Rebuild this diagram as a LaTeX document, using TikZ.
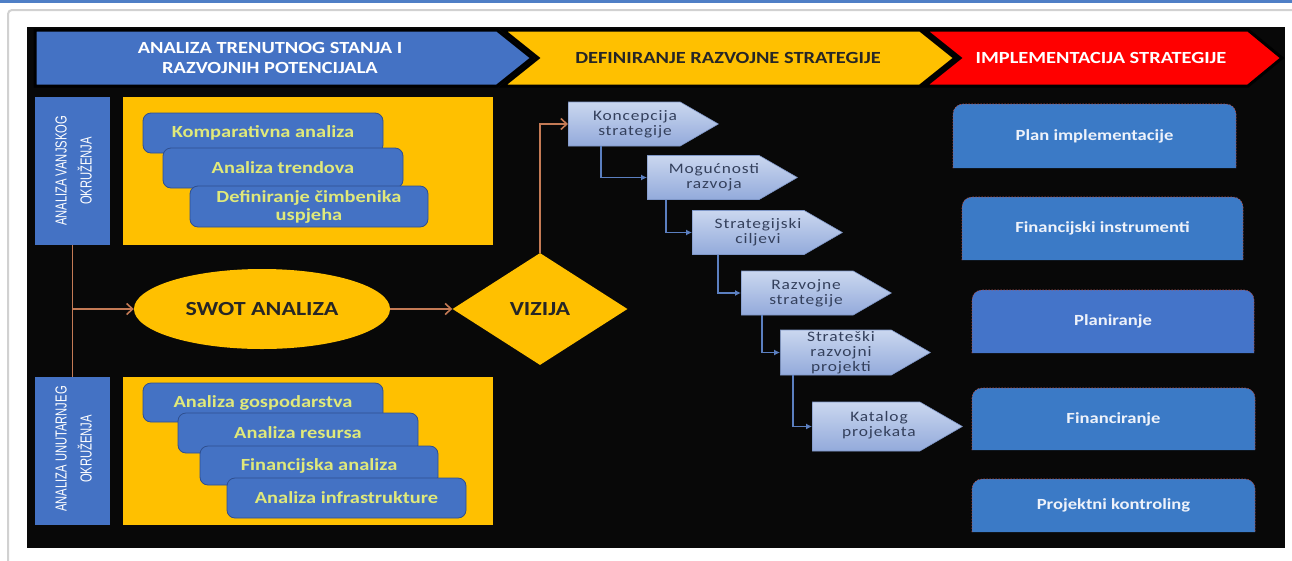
\documentclass[tikz,border=0pt]{standalone}
\usepackage{fontspec}
\setmainfont{Carlito}
\newfontfamily\cb{Carlito}[FakeStretch=1.2]
\newfontfamily\narrow{Liberation Sans}[FakeStretch=0.7]
\usetikzlibrary{shapes.geometric,shapes.symbols,arrows.meta,calc}
\definecolor{hblue}{HTML}{4472C4}
\definecolor{hyellow}{HTML}{FFC000}
\definecolor{hred}{HTML}{FF0000}
\definecolor{ibtext}{HTML}{E0E97A}
\definecolor{ibdraw}{HTML}{2F4F8F}
\definecolor{brownln}{HTML}{C47A55}
\definecolor{blueln}{HTML}{5B7FC0}
\definecolor{pentop}{HTML}{CAD7EF}
\definecolor{penbot}{HTML}{93AADB}
\definecolor{pendraw}{HTML}{7F97C8}
\definecolor{pentext}{HTML}{34405C}
\definecolor{rbox}{HTML}{3B7AC6}
\definecolor{rbox2}{HTML}{4474C9}
\definecolor{rtext}{HTML}{EEF2FA}
\definecolor{rborder}{HTML}{B05050}
\definecolor{darktext}{HTML}{262626}
\definecolor{stripblue}{HTML}{4F7FC6}
\begin{document}
\begin{tikzpicture}[x=1pt,y=-1pt,
  hdr/.style={draw=black,line width=3pt,line join=miter},
  hdrtext/.style={font=\cb\bfseries\fontsize{17}{20}\selectfont,align=center},
  sidebox/.style={fill=hblue,minimum width=75pt,minimum height=148pt,inner sep=0pt},
  sidetext/.style={text=white,rotate=90,align=center,font=\narrow\fontsize{16}{25}\selectfont},
  ypanel/.style={fill=hyellow,minimum width=370pt,minimum height=148pt,inner sep=0pt},
  ibox/.style={fill=hblue,draw=ibdraw,line width=0.8pt,rounded corners=8pt,minimum width=240pt,minimum height=40pt,inner sep=0pt,align=center,text=ibtext,font=\cb\bfseries\fontsize{17}{18}\selectfont},
  pent/.style={signal,signal to=east,signal pointer angle=60,top color=pentop,bottom color=penbot,draw=pendraw,line width=0.6pt,minimum width=150pt,minimum height=44pt,inner sep=0pt,anchor=west},
  pentxt/.style={align=center,text=pentext,inner sep=0pt,font=\cb\fontsize{14.5}{15}\selectfont\addfontfeature{LetterSpace=6}},
  rbfill/.style={fill=#1,draw=rborder,line width=0.6pt,dash pattern=on 1.5pt off 1.5pt,rounded corners=10pt},
  rbtext/.style={text=rtext,font=\cb\bfseries\fontsize{15.5}{18}\selectfont},
  brc/.style={draw=brownln,line width=1.6pt},
  bra/.style={brc,-{Straight Barb[length=6pt,width=11pt]}},
  bc/.style={draw=blueln,line width=1.3pt,-{Latex[length=6pt,width=6pt]}}
]
\useasboundingbox (0,0) rectangle (1292,560);
\fill[white] (0,0) rectangle (1292,560);
\fill[stripblue] (0,0) rectangle (1292,3);
\draw[black!18,line width=2pt,rounded corners=4pt] (8,575) -- (8,10) -- (1310,10);
\fill[black!97] (27,27) rectangle (1285,548);

% header chevrons
\filldraw[hdr,fill=hblue] (35,30) -- (497,30) -- (532,58) -- (497,86) -- (35,86) -- cycle;
\filldraw[hdr,fill=hyellow] (503,30) -- (920,30) -- (955,58) -- (920,86) -- (503,86) -- (538,58) -- cycle;
\filldraw[hdr,fill=hred] (925,30) -- (1248,30) -- (1282,58) -- (1248,86) -- (925,86) -- (960,58) -- cycle;
\node[hdrtext,text=white] (h1) at (270,58) {ANALIZA TRENUTNOG STANJA I\\RAZVOJNIH POTENCIJALA};
\node[hdrtext,text=darktext] (h2) at (728,58) {DEFINIRANJE RAZVOJNE STRATEGIJE};
\node[hdrtext,text=white] (h3) at (1101,58) {IMPLEMENTACIJA STRATEGIJE};

% left side boxes
\node[sidebox] (vanj) at (72.5,171) {};
\node[sidetext] (vanjt) at (73.5,171) {ANALIZA VANJSKOG\\OKRUŽENJA};
\node[sidebox] (unut) at (72.5,451) {};
\node[sidetext] (unutt) at (73.5,449) {ANALIZA UNUTARNJEG\\OKRUŽENJA};

% yellow panels
\node[ypanel] (yp1) at (308,171) {};
\node[ypanel] (yp2) at (308,451) {};

% inner boxes top
\node[ibox] (ka) at (263,133) {Komparativna analiza};
\node[ibox] (at) at (283,168) {Analiza trendova};
\node[ibox,minimum width=238pt,minimum height=41pt] (dc) at (309,206.5) {Definiranje čimbenika\\uspjeha};
% inner boxes bottom
\node[ibox,minimum height=39pt] (ag) at (263,402.5) {Analiza gospodarstva};
\node[ibox] (ar) at (298,433) {Analiza resursa};
\node[ibox,minimum width=238pt,minimum height=39pt] (fa) at (319,465.5) {Financijska analiza};
\node[ibox,minimum width=239pt] (ai) at (346.5,498) {Analiza infrastrukture};

% SWOT and VIZIJA
\node[ellipse,fill=hyellow,minimum width=256pt,minimum height=80pt,inner sep=0pt,text=darktext,font=\cb\bfseries\fontsize{20}{24}\selectfont] (swot) at (262,309) {SWOT ANALIZA};
\node[diamond,fill=hyellow,minimum width=175pt,minimum height=112pt,inner sep=0pt,text=darktext,font=\cb\bfseries\fontsize{20}{24}\selectfont] (viz) at (540,309) {VIZIJA};

% pentagons
\node[pent] (k1) at (568,124) {};
\node[pentxt] (k1t) at (635,124) {Koncepcija\\strategije};
\node[pent] (k2) at (647,177.5) {};
\node[pentxt] (k2t) at (714,177.5) {Mogućnosti\\razvoja};
\node[pent] (k3) at (692,232.5) {};
\node[pentxt] (k3t) at (758,232.5) {Strategijski\\ciljevi};
\node[pent] (k4) at (741,293) {};
\node[pentxt] (k4t) at (806,293) {Razvojne\\strategije};
\node[pent,minimum height=45pt] (k5) at (780,352.5) {};
\node[pentxt] (k5t) at (841,352.5) {Strateški\\razvojni\\projekti};
\node[pent,minimum height=49pt] (k6) at (812,426.5) {};
\node[pentxt] (k6t) at (879,425.5) {Katalog\\projekata};

% right boxes
\path[rbfill=rbox] (953,168) -- (953,104) -- (1236,104) -- (1236,168);
\node[rbtext] (r1) at (1094.5,136) {Plan implementacije};
\path[rbfill=rbox] (962,260) -- (962,197) -- (1243,197) -- (1243,260);
\node[rbtext] (r2) at (1102.5,228.5) {Financijski instrumenti};
\path[rbfill=rbox2] (972,353) -- (972,290) -- (1254,290) -- (1254,353);
\node[rbtext] (r3) at (1113,321.5) {Planiranje};
\path[rbfill=rbox] (972,450) -- (972,388) -- (1255,388) -- (1255,450);
\node[rbtext] (r4) at (1113.5,419) {Financiranje};
\path[rbfill=rbox] (972,532) -- (972,479) -- (1255,479) -- (1255,532);
\node[rbtext] (r5) at (1113.5,505.5) {Projektni kontroling};

% brown connectors
\draw[brc] (vanj.south) -- (unut.north);
\coordinate (sj) at (vanj.south |- swot.west);
\draw[bra] (sj) -- (swot.west);
\draw[bra] (swot.east) -- (viz.west);
\draw[bra] (viz.north) |- (k1.west);

% blue connectors
\draw[bc] ([xshift=33pt]k1.west |- k1.south) |- (k2.west);
\draw[bc] ([xshift=19pt]k2.west |- k2.south) |- (k3.west);
\draw[bc] ([xshift=26pt]k3.west |- k3.south) |- (k4.west);
\draw[bc] ([xshift=21pt]k4.west |- k4.south) |- (k5.west);
\draw[bc] ([xshift=13pt]k5.west |- k5.south) |- (k6.west);
\end{tikzpicture}
\end{document}
